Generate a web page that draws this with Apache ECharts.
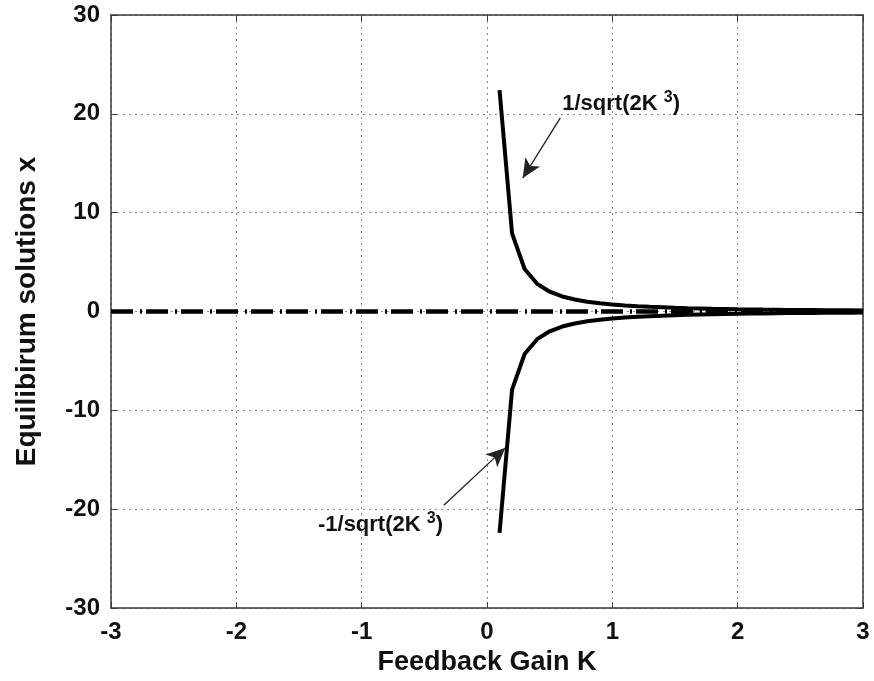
<!DOCTYPE html>
<html>
<head>
<meta charset="utf-8">
<script src="https://cdn.jsdelivr.net/npm/echarts@6/dist/echarts.min.js"></script>
<style>
  html, body { margin: 0; padding: 0; background: #fff; }
  #chart { width: 874px; height: 681px; }
</style>
</head>
<body>
<div id="chart"></div>
<script>
// Feedback gain samples and the two equilibrium branches
const gainK = [0.1, 0.2, 0.3, 0.4, 0.5, 0.6, 0.7, 0.8, 0.9, 1.0,
               1.1, 1.2, 1.3, 1.4, 1.5, 1.6, 1.7, 1.8, 1.9, 2.0,
               2.1, 2.2, 2.3, 2.4, 2.5, 2.6, 2.7, 2.8, 2.9, 3.0];
const upperBranch = [22.4, 7.9, 4.3, 2.8, 2.0, 1.52, 1.21, 0.99, 0.83, 0.71,
                     0.61, 0.53, 0.47, 0.42, 0.37, 0.33, 0.30, 0.27, 0.25, 0.22,
                     0.21, 0.19, 0.18, 0.16, 0.15, 0.14, 0.13, 0.12, 0.12, 0.11];
const lowerBranch = [-22.4, -7.9, -4.3, -2.8, -2.0, -1.52, -1.21, -0.99, -0.83, -0.71,
                     -0.61, -0.53, -0.47, -0.42, -0.37, -0.33, -0.30, -0.27, -0.25, -0.22,
                     -0.21, -0.19, -0.18, -0.16, -0.15, -0.14, -0.13, -0.12, -0.12, -0.11];
// Trivial equilibrium x = 0 across the whole gain range
const zeroK = [-3, 3];
const zeroX = [0, 0];

// Annotation labels: [K, x] anchors in data space
const upperLabel = { pos: [1.07, 21.0], text: '1/sqrt(2K' };
const lowerLabel = { pos: [-0.85, -21.6], text: '-1/sqrt(2K' };
// Arrows: start and tip in data space
const upperArrow = [[0.585, 19.6], [0.285, 13.5]];
const lowerArrow = [[-0.345, -19.6], [0.145, -13.8]];

const xTicks = { min: -3, max: 3, interval: 1 };
const yTicks = { min: -30, max: 30, interval: 10 };

const FONT = 'Liberation Sans, Arial, sans-serif';
const pairs = (xs, ys) => xs.map((x, i) => [x, ys[i]]);

const chart = echarts.init(document.getElementById('chart'), null, { renderer: 'canvas' });

const labelRich = {
  b: { fontFamily: FONT, fontWeight: 'bold', fontSize: 22, color: '#111' },
  sup: { fontFamily: FONT, fontWeight: 'bold', fontSize: 16, color: '#111', verticalAlign: 'bottom', padding: [0, 0, 12, 0] }
};

const tickFont = { fontFamily: FONT, fontWeight: 'bold', fontSize: 24, color: '#111' };
const gridDots = { show: true, lineStyle: { color: '#8a8a8a', type: [2, 4], width: 1 } };

function axisCommon(show) {
  return {
    axisLine: { show: true, onZero: false, lineStyle: { color: '#3a3a3a', width: 1.5 } },
    axisTick: { show: true, inside: true, length: 6, lineStyle: { color: '#3a3a3a', width: 1 } },
    axisLabel: { show: false },
    splitLine: { show: false }
  };
}

chart.setOption({
  backgroundColor: '#fff',
  animation: false,
  grid: { left: 111, right: 11, top: 15, bottom: 73, containLabel: false },
  xAxis: [
    Object.assign({
      type: 'value', position: 'bottom',
      min: xTicks.min, max: xTicks.max, interval: xTicks.interval,
      name: 'Feedback Gain K', nameLocation: 'middle', nameGap: 40,
      nameTextStyle: { fontFamily: FONT, fontWeight: 'bold', fontSize: 27, color: '#111' }
    }, axisCommon(true), {
      axisLabel: Object.assign({ show: true, margin: 12 }, tickFont),
      splitLine: gridDots
    }),
    Object.assign({
      type: 'value', position: 'top',
      min: xTicks.min, max: xTicks.max, interval: xTicks.interval
    }, axisCommon(false))
  ],
  yAxis: [
    Object.assign({
      type: 'value', position: 'left',
      min: yTicks.min, max: yTicks.max, interval: yTicks.interval,
      name: 'Equilibirum solutions x', nameLocation: 'middle', nameGap: 70, nameRotate: 90,
      nameTextStyle: { fontFamily: FONT, fontWeight: 'bold', fontSize: 28, color: '#111' }
    }, axisCommon(true), {
      axisLabel: Object.assign({ show: true, margin: 11 }, tickFont),
      splitLine: gridDots
    }),
    Object.assign({
      type: 'value', position: 'right',
      min: yTicks.min, max: yTicks.max, interval: yTicks.interval
    }, axisCommon(false))
  ],
  series: [
    {
      name: 'zero', type: 'line', data: pairs(zeroK, zeroX),
      symbol: 'none', silent: true, z: 2,
      lineStyle: { color: '#000', width: 4.5, type: [22, 7, 2, 4], cap: 'butt' }
    },
    {
      name: 'upper', type: 'line', data: pairs(gainK, upperBranch),
      symbol: 'none', silent: true, z: 3,
      lineStyle: { color: '#000', width: 4 }
    },
    {
      name: 'lower', type: 'line', data: pairs(gainK, lowerBranch),
      symbol: 'none', silent: true, z: 3,
      lineStyle: { color: '#000', width: 4 }
    },
    {
      name: 'arrows', type: 'line', data: [], silent: true, z: 4,
      markLine: {
        silent: true, animation: false,
        symbol: ['none', 'arrow'], symbolSize: [13, 19],
        label: { show: false },
        lineStyle: { color: '#222', width: 1.3, type: 'solid', opacity: 1 },
        data: [
          [{ coord: upperArrow[0] }, { coord: upperArrow[1] }],
          [{ coord: lowerArrow[0] }, { coord: lowerArrow[1] }]
        ]
      }
    },
    {
      name: 'labels', type: 'scatter', symbolSize: 0, silent: true, z: 5,
      itemStyle: { color: '#111', opacity: 1 },
      data: [
        { value: upperLabel.pos, text: upperLabel.text },
        { value: lowerLabel.pos, text: lowerLabel.text }
      ],
      label: {
        show: true, position: 'inside', color: '#111',
        textBorderWidth: 0,
        formatter: p => '{b|' + p.data.text + ' }{sup|3}{b|)}',
        rich: labelRich
      }
    }
  ]
});
</script>
</body>
</html>
